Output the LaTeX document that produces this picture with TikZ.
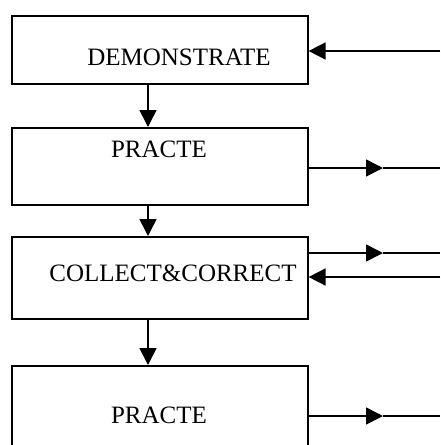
\documentclass[tikz,border=0pt]{standalone}
\usepackage{fontspec}
\setmainfont{Liberation Serif}
\usetikzlibrary{arrows.meta}
\begin{document}
\begin{tikzpicture}[x=1pt,y=1pt,
  boxstyle/.style={draw,line width=1.6pt,inner sep=0pt,anchor=north west},
  lbl/.style={inner sep=0pt,font=\fontsize{25}{28}\selectfont},
  conn/.style={line width=1.6pt},
  headarrow/.style={-{Triangle[length=17pt,width=17pt]}},
]
\useasboundingbox (0,-445) rectangle (440,0);
\clip (0,-445) rectangle (440,0);
\node[boxstyle,minimum width=296pt,minimum height=68pt] (b1) at (11,-15) {};
\node[boxstyle,minimum width=296pt,minimum height=77pt] (b2) at (11,-127) {};
\node[boxstyle,minimum width=296pt,minimum height=82pt] (b3) at (11,-236) {};
\node[boxstyle,minimum width=296pt,minimum height=100pt] (b4) at (11,-365) {};
\node[lbl] (t1) at (179,-57) {DEMONSTRATE};
\node[lbl] (t2) at (159,-149) {PRACTE};
\node[lbl] (t3) at (173,-273) {COLLECT\&CORRECT};
\node[lbl] (t4) at (159,-415) {PRACTE};
% vertical connectors
\coordinate (vx) at (148,0);
\draw[conn,headarrow] (b1.south -| vx) -- (b2.north -| vx);
\draw[conn,headarrow] (b2.south -| vx) -- (b3.north -| vx);
\draw[conn,headarrow] (b3.south -| vx) -- (b4.north -| vx);
% right side
\coordinate (e1) at (440,-51);
\draw[conn,headarrow] (e1) -- (e1 -| b1.east);
\coordinate (m2) at (383,-168);
\coordinate (e2) at (440,-168);
\draw[conn,headarrow] (m2 -| b2.east) -- (m2);
\draw[conn] (m2) -- (e2);
\coordinate (m3) at (383,-253);
\coordinate (e3) at (440,-253);
\draw[conn,headarrow] (m3 -| b3.east) -- (m3);
\draw[conn] (m3) -- (e3);
\coordinate (e3b) at (440,-277);
\draw[conn,headarrow] (e3b) -- (e3b -| b3.east);
\coordinate (m4) at (383,-416);
\coordinate (e4) at (440,-416);
\draw[conn,headarrow] (m4 -| b4.east) -- (m4);
\draw[conn] (m4) -- (e4);
\end{tikzpicture}
\end{document}
